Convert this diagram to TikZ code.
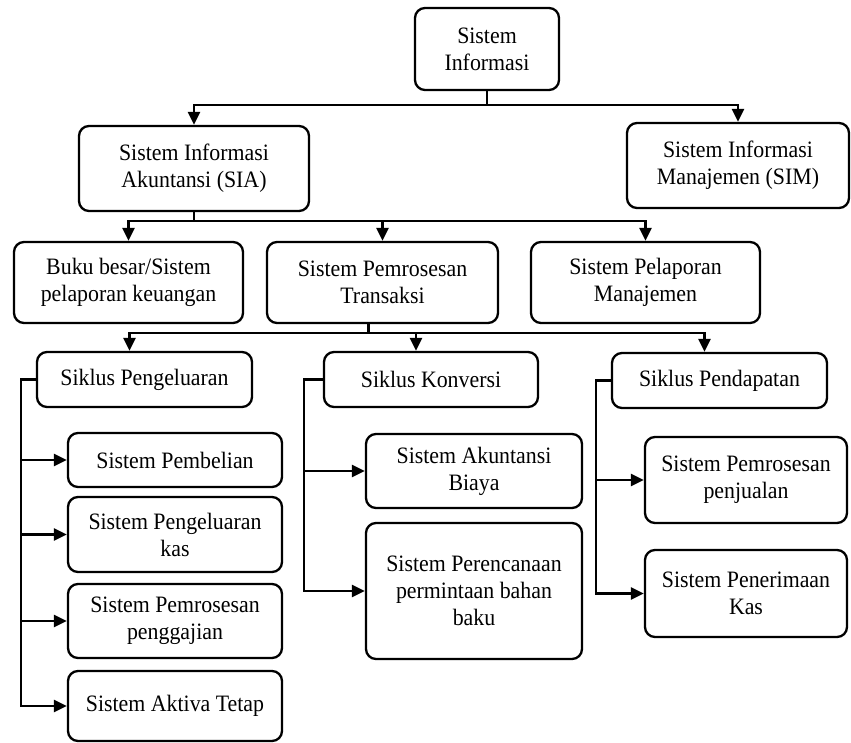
\documentclass[tikz,border=0pt]{standalone}
\usepackage{fontspec}
\setmainfont[FakeStretch=0.93]{Liberation Serif}
\usetikzlibrary{arrows.meta}

\begin{document}
\begin{tikzpicture}[x=1pt,y=-1pt,
			box node/.style={draw,line width=2.3pt,rounded corners=10pt,align=center,inner sep=2pt,font=\fontsize{23.5}{27}\selectfont},
			link/.style={line width=2.4pt,-{Triangle[length=13pt,width=12pt]}}
			]
			
			\def \gap {15};
			
			\useasboundingbox (0,0) rectangle (851,743);
			
			% level 1 and 2
			\node[box node,minimum width=144pt,minimum height=82pt] (si) at (487,49) {Sistem\\Informasi};
			\node[box node,minimum width=230pt,minimum height=85pt] (sia) at (194,168.5) {Sistem Informasi\\Akuntansi (SIA)};
			\node[box node,minimum width=222pt,minimum height=85pt] (sim) at (738,165.5) {Sistem Informasi\\Manajemen (SIM)};
			
			% level 3
			\node[box node,minimum width=229pt,minimum height=81pt] (buku) at (128.5,282.5) {Buku besar/Sistem\\pelaporan keuangan};
			\node[box node,minimum width=231pt,minimum height=81pt] (tps) at (382.5,282.5) {Sistem Pemrosesan\\Transaksi};
			\node[box node,minimum width=229pt,minimum height=81pt] (spm) at (645.5,282.5) {Sistem Pelaporan\\Manajemen};
			
			% siklus
			\node[box node,minimum width=215pt,minimum height=55pt] (sp) at (144.5,379.5) {Siklus Pengeluaran};
			\node[box node,minimum width=214pt,minimum height=55pt] (sk) at (431,379.5) {Siklus Konversi};
			\node[box node,minimum width=215pt,minimum height=55pt] (sd) at (719.5,380.5) {Siklus Pendapatan};
			
			% sistem per siklus
			\node[box node,minimum width=214pt,minimum height=54pt] (beli) at (175,460) {Sistem Pembelian};
			\node[box node,minimum width=214pt,minimum height=75pt] (kas) at (175,534.5) {Sistem Pengeluaran\\kas};
			\node[box node,minimum width=214pt,minimum height=74pt] (gaji) at (175,621) {Sistem Pemrosesan\\penggajian};
			\node[box node,minimum width=214pt,minimum height=70pt] (aktiva) at (175,706) {Sistem Aktiva Tetap};
			
			\node[box node,minimum width=216pt,minimum height=74pt] (biaya) at (474,471) {Sistem Akuntansi\\Biaya};
			\node[box node,minimum width=216pt,minimum height=136pt] (bahan) at (474,591) {Sistem Perencanaan\\permintaan bahan\\baku};
			
			\node[box node,minimum width=202pt,minimum height=86pt] (jual) at (746,480) {Sistem Pemrosesan\\penjualan};
			\node[box node,minimum width=202pt,minimum height=87pt] (terima) at (746,593.5) {Sistem Penerimaan\\Kas};
			
			% connectors
			\foreach \t in {sia,sim} {
				\draw[link] (si.south) -- ++(0,14) -| (\t.north);
			}
			\foreach \t in {buku,tps,spm} {
				\draw[link] (sia.south) -- ++(0,9) -| (\t.north);
			}
			\foreach \t in {sp,sk,sd} {
				\draw[link] ([xshift=-14pt]tps.south) -- ++(0,9) -| ([xshift=-\gap pt]\t.north);
			}
			
			\foreach \t in {beli,kas,gaji,aktiva} {
				\draw[link] (sp.west) -- ++(-\gap,0) |- (\t.west);
			}
			\foreach \t in {biaya,bahan} {
				\draw[link] (sk.west) -- ++(-19,0) |- (\t.west);
			}
			\foreach \t in {jual,terima} {
				\draw[link] (sd.west) -- ++(-\gap,0) |- (\t.west);
			}
			
\end{tikzpicture}
\end{document}
